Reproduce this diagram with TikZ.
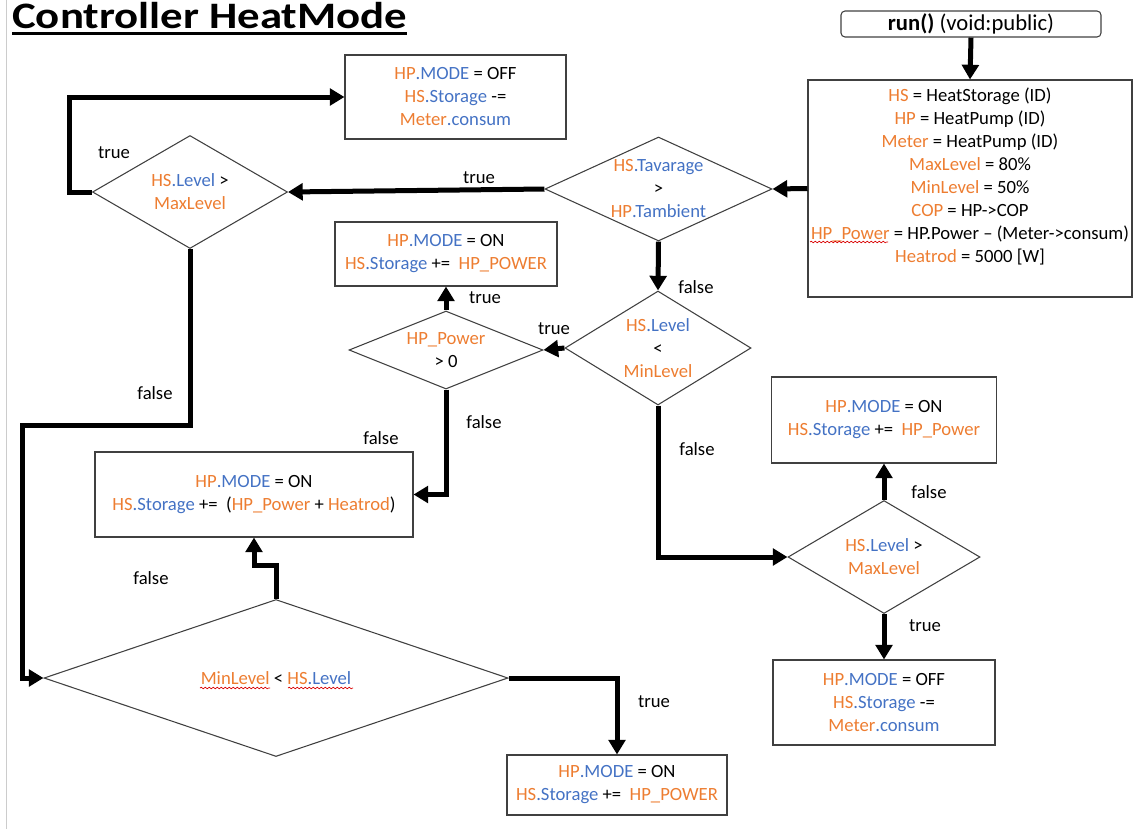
\documentclass[tikz,border=0pt]{standalone}
\usepackage{fontspec}
\setmainfont{Carlito}
\usetikzlibrary{shapes.geometric,arrows.meta,decorations.pathmorphing}
\definecolor{hporange}{HTML}{ED7D31}
\definecolor{hpblue}{HTML}{4472C4}
\newcommand{\org}[1]{\textcolor{hporange}{#1}}
\newcommand{\blu}[1]{\textcolor{hpblue}{#1}}
\tikzset{
  txt/.style={font=\fontsize{14}{17.25}\selectfont, align=center},
  box/.style={draw=black!75, line width=0.8pt, txt, inner sep=0pt},
  cond/.style={draw=black!75, line width=0.8pt, diamond, inner sep=0pt},
  flow/.style={line width=3.75pt, -{Triangle[length=11pt,width=12.5pt]}},
  lbl/.style={txt, inner sep=0pt},
  spell/.style={red!85!black, line width=0.5pt, decorate,
    decoration={snake, amplitude=0.6pt, segment length=3pt}},
  every label/.style={txt, inner sep=0pt}
}
\begin{document}
\begin{tikzpicture}[x=0.75pt, y=-0.75pt]
  \useasboundingbox (0,0) rectangle (1138,829);
  \draw[black!20, line width=0.75pt] (6,0) -- (6,829);

  \node[font=\fontsize{28}{33}\selectfont\bfseries, anchor=base west, inner sep=0pt] (title) at (12,28) {\scalebox{1.2}[1]{Controller HeatMode}};
  \draw[line width=2.25pt] ([yshift=-3.75pt]title.base west) -- ([yshift=-3.75pt]title.base east);

  \node[box, rounded corners=3pt, minimum width=195pt, minimum height=19.5pt,
        font=\fontsize{17}{20}\selectfont] (run) at (971,24) {\textbf{run()} (void:public)};
  \node[box, minimum width=243pt, minimum height=162.75pt,
        label={[anchor=north, yshift=-6pt]north:{\org{HS} = HeatStorage (ID)\\
          \org{HP} = HeatPump (ID)\\
          \org{Meter} = HeatPump (ID)\\
          \org{MaxLevel} = 80\%\\
          \org{MinLevel} = 50\%\\
          \org{COP} = HP->COP\\
          \org{HP\_Power} = HP.Power -- (Meter->consum)\\
          \org{Heatrod} = 5000 [W]}}] (init) at (970,188.5) {};

  \node[cond, minimum width=170.25pt, minimum height=78pt,
        label=center:{\org{HS}\blu{.Tavarage}\\>\\\org{HP}\blu{.Tambient}}] (tav) at (658.5,189) {};
  \node[cond, minimum width=146.25pt, minimum height=84.75pt,
        label=center:{\org{HS}\blu{.Level} >\\\org{MaxLevel}}] (maxtop) at (190,192) {};
  \node[cond, minimum width=139.5pt, minimum height=85.5pt,
        label=center:{\org{HS}\blu{.Level}\\<\\\org{MinLevel}}] (minchk) at (658,348) {};
  \node[cond, minimum width=145.5pt, minimum height=58.5pt,
        label=center:{\org{HP\_Power}\\> 0}] (pwr) at (446,350) {};
  \node[cond, minimum width=348pt, minimum height=117.75pt,
        label=center:{\org{MinLevel} < \org{HS}\blu{.Level}}] (minlow) at (276,678) {};
  \node[cond, minimum width=144pt, minimum height=84.75pt,
        label=center:{\org{HS}\blu{.Level} >\\\org{MaxLevel}}] (maxright) at (884,557) {};

  \node[box, minimum width=165.75pt, minimum height=63pt] (offtop) at (455.5,97)
    {\org{HP}\blu{.MODE} = OFF\\\org{HS}\blu{.Storage} -=\\\org{Meter}\blu{.consum}};
  \node[box, minimum width=166.5pt, minimum height=48pt] (ontop) at (446,254)
    {\org{HP}\blu{.MODE} = ON\\\org{HS}\blu{.Storage} +=\ \ \org{HP\_POWER}};
  \node[box, minimum width=238.5pt, minimum height=63.75pt] (onheat) at (254,494.5)
    {\org{HP}\blu{.MODE} = ON\\\org{HS}\blu{.Storage} +=\ \ (\org{HP\_Power} + \org{Heatrod})};
  \node[box, minimum width=165pt, minimum height=45pt] (onbot) at (617,785)
    {\org{HP}\blu{.MODE} = ON\\\org{HS}\blu{.Storage} +=\ \ \org{HP\_POWER}};
  \node[box, minimum width=168.75pt, minimum height=64.5pt] (onright) at (884,420)
    {\org{HP}\blu{.MODE} = ON\\\org{HS}\blu{.Storage} +=\ \ \org{HP\_Power}};
  \node[box, minimum width=166.5pt, minimum height=63.75pt] (offright) at (884,702.5)
    {\org{HP}\blu{.MODE} = OFF\\\org{HS}\blu{.Storage} -=\\\org{Meter}\blu{.consum}};

  \draw[flow] (run.south) -- (init.north);
  \draw[flow] (init.west) -- (tav.east);
  \draw[flow] (tav.west) -- (maxtop.east);
  \draw[flow] (maxtop.west) -- ++(-22,0) |- (offtop.west);
  \draw[flow] (maxtop.south) -- ++(0,176.5) -- ++(-168,0) |- (minlow.west);
  \draw[flow] (tav.south) -- (minchk.north);
  \draw[flow] (minchk.west) -- (pwr.east);
  \draw[flow] (pwr.north) -- (ontop.south);
  \draw[flow] (pwr.south) |- (onheat.east);
  \draw[flow] (minlow.north) -- ++(0,-33) -| (onheat.south);
  \draw[flow] (minlow.east) -| (onbot.north);
  \draw[flow] (minchk.south) |- (maxright.west);
  \draw[flow] (maxright.north) -- (onright.south);
  \draw[flow] (maxright.south) -- (offright.north);

  \node[lbl] (l1) at (479,178) {true};
  \node[lbl] (l2) at (114,153) {true};
  \node[lbl] (l3) at (155,393) {false};
  \node[lbl] (l4) at (696,287) {false};
  \node[lbl] (l5) at (554,329) {true};
  \node[lbl] (l6) at (485,298) {true};
  \node[lbl] (l7) at (484,422) {false};
  \node[lbl] (l8) at (381,438) {false};
  \node[lbl] (l9) at (697,449) {false};
  \node[lbl] (l10) at (929,492) {false};
  \node[lbl] (l11) at (925,626) {true};
  \node[lbl] (l12) at (151,578) {false};
  \node[lbl] (l13) at (654,702) {true};

  \draw[spell] (810,242) -- (888,242);
  \draw[spell] (200,688) -- (270,688);
  \draw[spell] (288,688) -- (353,688);
\end{tikzpicture}
\end{document}
